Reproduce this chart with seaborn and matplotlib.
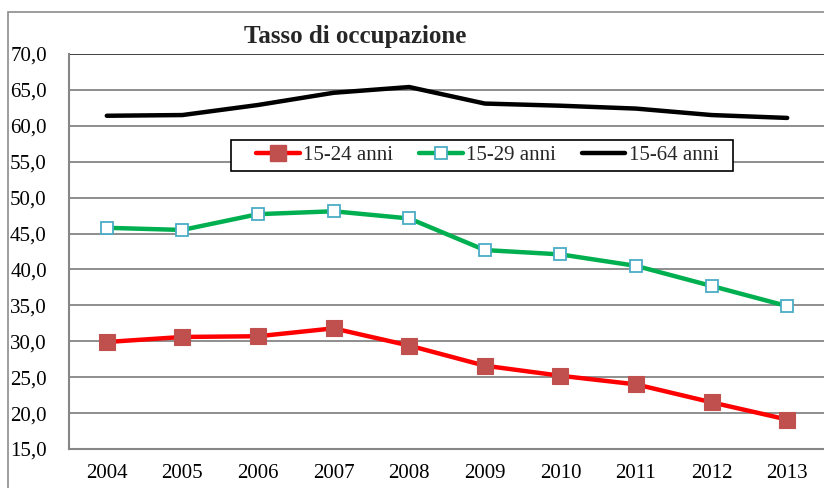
import matplotlib
matplotlib.use("Agg")
import matplotlib.pyplot as plt
import seaborn as sns
import pandas as pd
from matplotlib.patches import Rectangle
from matplotlib.lines import Line2D
from matplotlib.ticker import FuncFormatter

years = [2004, 2005, 2006, 2007, 2008, 2009, 2010, 2011, 2012, 2013]
s_15_24 = [29.9, 30.6, 30.7, 31.8, 29.4, 26.6, 25.2, 24.0, 21.5, 19.1]
s_15_29 = [45.8, 45.5, 47.7, 48.1, 47.1, 42.7, 42.1, 40.5, 37.7, 34.9]
s_15_64 = [61.4, 61.5, 62.9, 64.6, 65.4, 63.1, 62.8, 62.4, 61.5, 61.1]
labels = ["15-24 anni", "15-29 anni", "15-64 anni"]
yticks = [15, 20, 25, 30, 35, 40, 45, 50, 55, 60, 65, 70]
title = "Tasso di occupazione"

sns.set_theme(style="white")
plt.rcParams["font.family"] = ["Liberation Serif", "DejaVu Serif"]

fig = plt.figure(figsize=(8.24, 4.88), dpi=100)
W, H = 824, 488
ax = fig.add_axes([69 / W, 1 - 449 / H, (825 - 69) / W, (449 - 54) / H])

# outer chart border
fig.patches.append(Rectangle((8 / W, -0.1), 1.2, 1 - 12 / H + 0.1,
                             transform=fig.transFigure, fill=False,
                             edgecolor="#8c8c8c", linewidth=1.2, zorder=0))

gray = "#868686"
for v in yticks[1:]:
    ax.axhline(v, color=("#303030" if v == 70 else gray), lw=1.3, zorder=1)

df = pd.DataFrame({"anno": years, "a": s_15_24, "b": s_15_29, "c": s_15_64})

sns.lineplot(data=df, x="anno", y="c", ax=ax, color="black", lw=3.2,
             zorder=3, legend=False)
sns.lineplot(data=df, x="anno", y="b", ax=ax, color="#00B050", lw=3.2,
             marker="s", markersize=8.3, markerfacecolor="white",
             markeredgecolor="#4BACC6", markeredgewidth=1.3, zorder=4,
             legend=False)
sns.lineplot(data=df, x="anno", y="a", ax=ax, color="#FF0000", lw=3.2,
             marker="s", markersize=11, markerfacecolor="#C0504D",
             markeredgecolor="#C0504D", markeredgewidth=0.8, zorder=5,
             legend=False)

ax.set_xlim(2003.5, 2013.5)
ax.set_ylim(15, 70)
ax.set_xticks(years)
ax.set_xticklabels([str(y) for y in years])
ax.set_yticks(yticks)
ax.yaxis.set_major_formatter(FuncFormatter(lambda v, p: f"{v:.1f}".replace(".", ",")))
ax.set_xlabel("")
ax.set_ylabel("")
ax.tick_params(axis="both", length=0, labelsize=15, colors="black")
ax.tick_params(axis="y", pad=16)
ax.tick_params(axis="x", pad=11)
for s in ["top", "right"]:
    ax.spines[s].set_visible(False)
for s in ["left", "bottom"]:
    ax.spines[s].set_color(gray)
    ax.spines[s].set_linewidth(1.5)

fig.text(355.5 / W, 1 - 37 / H, title, ha="center", va="center",
         fontsize=18, fontweight="bold")

# legend frame
fig.patches.append(Rectangle((231 / W, 1 - 171 / H), (733 - 231) / W, 31 / H,
                             transform=fig.transFigure, facecolor="white",
                             edgecolor="black", linewidth=1.2, zorder=10))

handles = [
    Line2D([], [], color="#FF0000", lw=3.2, marker="s", markersize=11,
           markerfacecolor="#C0504D", markeredgecolor="#C0504D"),
    Line2D([], [], color="#00B050", lw=3.2, marker="s", markersize=8.3,
           markerfacecolor="white", markeredgecolor="#4BACC6", markeredgewidth=1.3),
    Line2D([], [], color="black", lw=3.2),
]
leg = fig.legend(handles, labels, ncol=3, loc="center left",
                 bbox_to_anchor=(256 / W, 1 - 155.5 / H), fontsize=15,
                 frameon=False, handlelength=2.1,
                 handletextpad=0.15, columnspacing=1.25, borderpad=0,
                 borderaxespad=0)
leg.set_zorder(11)

fig.savefig("out.png", dpi=100)
